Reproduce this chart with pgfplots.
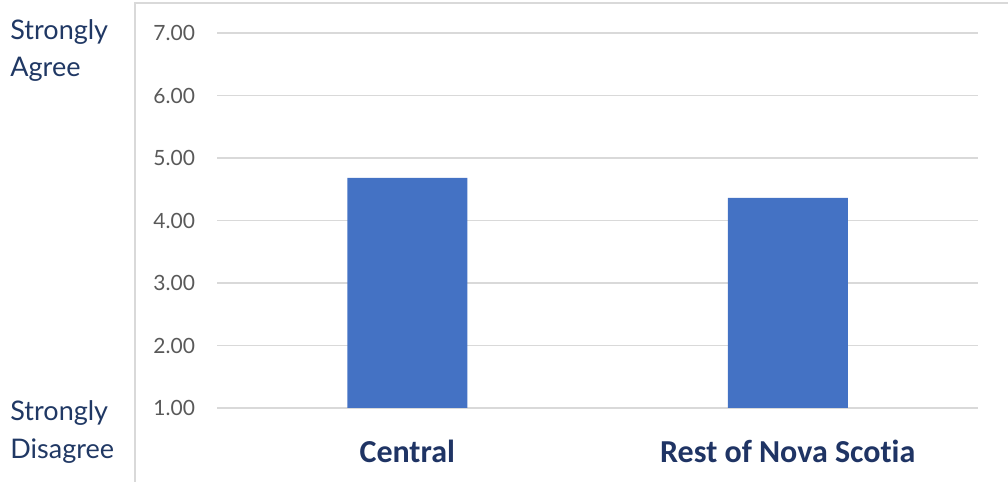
\documentclass[border=0pt]{standalone}
\usepackage{pgfplots}
\pgfplotsset{compat=1.18}
\usepackage{fontspec}
\setmainfont{Lato}
\newfontfamily\carlito[Ligatures={NoCommon}]{Carlito}
\definecolor{barblue}{HTML}{4472C4}
\definecolor{navy}{HTML}{203864}
\definecolor{catnavy}{HTML}{1F3464}
\definecolor{gridgray}{HTML}{D9D9D9}
\definecolor{ticktext}{HTML}{595959}
\begin{document}
\begin{tikzpicture}
\useasboundingbox (0,0) rectangle (504pt,241pt);
\draw[gridgray, line width=0.8pt] (67.5pt,0) -- (67.5pt,239.5pt) -- (504pt,239.5pt);
\begin{axis}[
  at={(108.5pt,37pt)}, anchor=south west,
  scale only axis,
  width=380.5pt, height=187.5pt,
  xmin=-0.5, xmax=1.5,
  ymin=1, ymax=7,
  ytick={1,2,...,7},
  xtick={0,1},
  xticklabels={Central, Rest of Nova Scotia},
  axis line style={draw=none},
  tick style={draw=none},
  ymajorgrids,
  grid style={gridgray, line width=0.8pt},
  /pgf/number format/assume math mode=true,
  yticklabel={\pgfmathprintnumber[fixed, fixed zerofill, precision=2]{\tick}},
  yticklabel style={font=\fontsize{10.5}{12}\selectfont, text=ticktext, anchor=east, xshift=-7.5pt},
  xticklabel style={font=\carlito\bfseries\fontsize{16}{19}\selectfont, text=catnavy, anchor=base, yshift=-23pt},
  ybar, bar width=60pt,
]
\addplot[fill=barblue, draw=none] coordinates {(0,4.68) (1,4.36)};
\end{axis}
\begin{scope}[every node/.style={text=navy, font=\fontsize{13.5}{15}\selectfont, anchor=base west, inner sep=0pt}]
\node at (5pt,221pt) {Strongly};
\node at (5pt,202.5pt) {Agree};
\node at (5pt,30.5pt) {Strongly};
\node at (5pt,11.5pt) {Disagree};
\end{scope}
\end{tikzpicture}
\end{document}
